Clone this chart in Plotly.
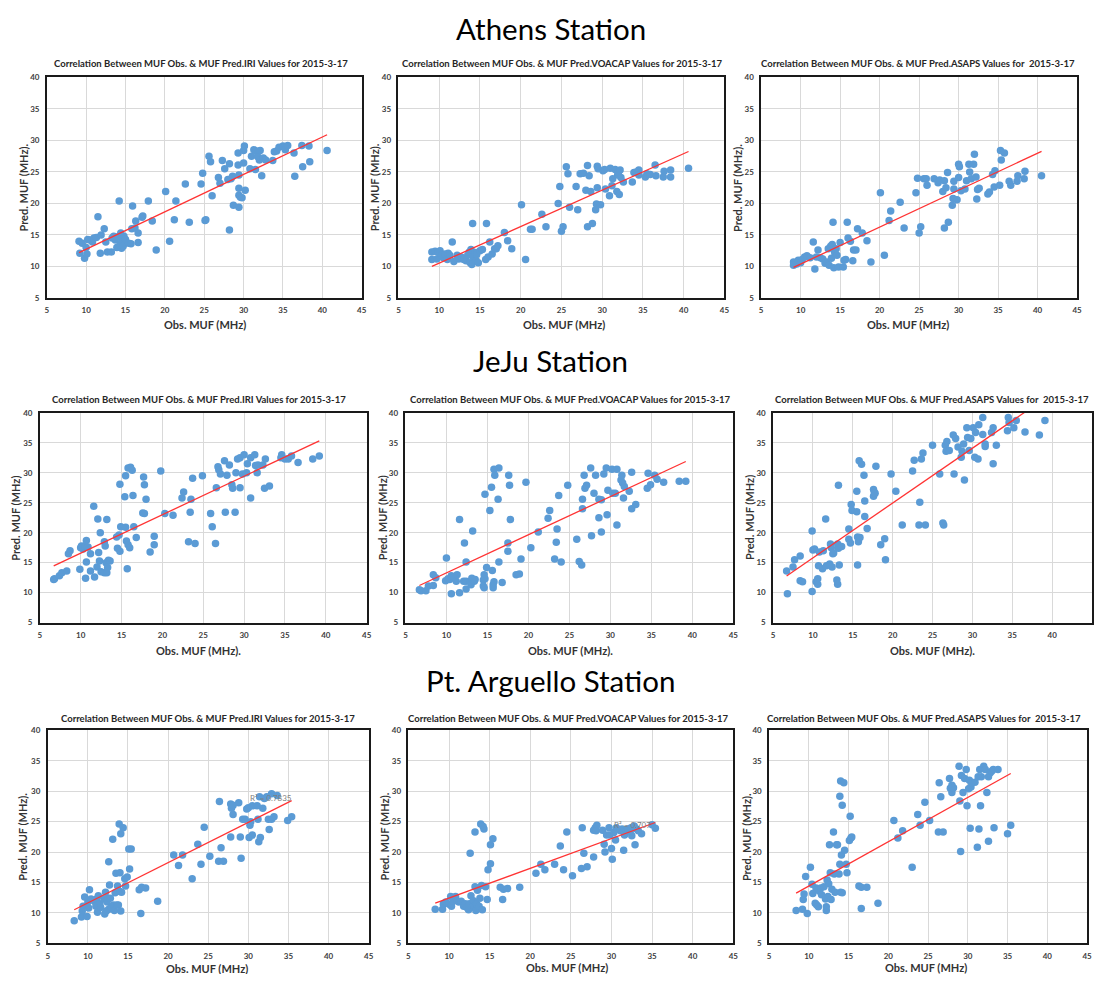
import numpy as np
import plotly.graph_objects as go

# ---------------- data ----------------
athens_iri_obs = [9.1,9.2,9.5,9.8,10,10.1,10.2,10.5,10.8,11,11.3,11.5,11.8,11.9,12.3,12.5,12.7,13.2,13.3,13.5,13.7,13.9,14,14.2,14.3,14.4,14.5,14.6,14.7,14.8,15,15.4,15.7,15.8,15.9,16.2,16.3,16.6,16.6,17.1,17.2,17.9,18.4,18.9,20.1,20.6,21.2,21.4,22.6,23.1,24.6,24.8,25.1,25.2,25.6,25.8,26,26.8,27,27.3,27.6,28,28.2,28.2,28.4,28.6,28.7,29.3,29.3,29.4,29.4,29.4,29.4,29.6,29.8,30,30,30.1,30.2,30.8,31,31.3,31.5,31.6,31.8,32,32.1,32.3,32.5,32.8,33.7,33.9,34.2,34.5,35,35.3,35.6,36.4,36.5,37.4,37.5,38.3,38.4,40.6]
athens_iri_pred = [14.0,12.1,13.7,11.3,13,12,14.3,14.2,13.9,14.5,14.6,17.9,12.1,15,16,13.9,12.3,12.3,14.5,14.8,14.2,13,14.7,20.4,13.5,15.3,12.9,14.1,13.2,14.8,14.3,13.7,13.6,16,19.6,16.1,17.2,13.8,15.3,17.8,18,20.4,17.2,12.6,21.9,14,17.4,20.4,23.1,17,23.1,24.8,17.3,17.4,27.5,26.6,21.2,24.1,23.2,26.8,25.5,23.8,26.3,15.8,23.9,24.3,19.7,28,26.1,24.5,22.4,21.3,19.4,21,20.9,26.4,28.4,29.1,22.1,25.5,27.5,28.5,25.4,28.3,27.4,26.9,28.4,24.4,27.2,26.9,26.8,28.2,28.3,28.9,29.1,28.5,29.2,28,24.3,29.2,25.8,29.1,26.6,28.4]

athens_voa_obs = [9.1,9.1,9.5,9.7,9.9,10.1,10.3,10.5,10.7,11,11.1,11.3,11.6,11.8,12.2,12.4,12.7,13.0,13.3,13.5,13.7,13.8,13.9,14,14.1,14.2,14.4,14.5,14.6,14.8,15.0,15.3,15.7,15.8,16,16.2,16.5,16.8,17,17.2,18,18.4,18.9,20.1,20.6,21.2,21.4,22.6,23.1,24.6,24.8,25,25.2,25.6,25.8,26,26.8,27,27.3,27.7,28,28.2,28.2,28.4,28.6,28.8,29.2,29.3,29.4,29.4,29.5,29.8,30.1,30.3,30.4,30.9,31,31.2,31.3,31.6,31.8,31.9,32,32.1,32.2,32.3,32.6,33.7,33.9,34.2,34.5,34.5,35.3,35.5,35.9,36.5,36.6,37.5,37.6,38.4,38.4,40.6]
athens_voa_pred = [12.3,11.1,12.4,11.2,12.2,12.5,11.8,11.4,12,11.1,12.1,11.8,13.9,10.8,11.8,11.2,11.5,11.1,10.9,11.8,12.3,10.6,12.7,10.3,16.8,11.5,12.2,11,11.9,10.6,12.5,12.7,11.1,16.8,11.5,13.9,12,12.8,12.8,13.3,15.4,14.1,12.8,19.8,11.1,15.9,15.9,18.3,16.3,20,22.7,15.6,16.3,25.8,24.7,19.4,22.7,19,24.7,24.8,22.1,26,16.3,24.4,21.9,16.8,19,19.9,25.9,22.5,25.5,19.8,25.2,25.4,22.3,21.2,25.6,22.8,23.9,25.4,21.9,24.5,25,21.4,25.3,24.1,23.4,23.4,24.9,25,25.3,24.5,24.2,24.7,24.6,26.1,24.4,24.2,25.1,25.3,24.2,25.6]

athens_asaps_obs = [9.1,9.1,9.5,9.7,10,10.2,10.5,10.8,11.2,11.6,11.8,12,12.2,12.5,12.8,13.1,13.3,13.5,13.6,13.8,13.9,14,14.1,14.2,14.3,14.5,14.6,14.8,15,15.4,15.5,15.7,15.9,16,16.3,16.6,16.7,17,17.2,17.8,18.4,18.9,20.1,20.6,21.2,21.4,22.6,23.1,24.6,24.8,25,25.2,25.6,25.9,26,26.9,27.4,27.6,28,28.2,28.2,28.4,28.6,28.7,29.2,29.3,29.4,29.4,29.8,30,30,30.1,30.3,30.8,31,31.3,31.4,31.6,31.9,32,32.2,32.3,32.4,32.6,33.7,33.9,34.3,34.6,34.5,35.2,35.3,35.4,35.8,36.4,36.6,37.4,37.5,38.3,38.4,40.5]
athens_asaps_pred = [10.7,10.2,10.4,11,10.6,11.1,11.5,11.7,11.4,13.9,9.6,11.5,12.6,11.4,11.2,10.5,10.7,12.8,10.2,13.2,11.3,13.5,17,9.8,12.2,12.8,11.8,9.9,13.8,9.9,11,11.1,17,14.5,14,10.9,12.6,12.6,16,15.3,14.1,10.7,21.7,11.8,17.3,18.8,20.2,16.1,21.7,24,15.3,16.3,23.9,23.9,22.9,23.9,23.3,23.7,21.9,23.6,16.1,22.5,24.9,17,19.7,20.8,22.3,23.5,20.6,26.2,24.1,25.8,22,22.3,23.6,26.2,25,23.9,26.2,27.8,24.2,20.7,22.2,22.4,21.5,21.8,24.6,25.2,22.6,22.9,28.4,26.9,28,23.5,22.9,23.5,24.4,23.9,25.1,24.4]

jeju_iri_obs = [6.7,6.8,7.4,7.7,8.3,8.5,8.7,9.9,10,10.1,10.3,10.5,10.6,10.7,10.7,10.9,11.2,11.2,11.6,11.7,12,12.1,12.2,12.3,12.4,12.5,12.9,12.9,13,13.1,13.2,13.2,13.3,13.4,13.6,14.4,14.5,14.7,14.8,14.8,14.9,15.4,15.5,15.5,15.6,15.7,15.8,15.8,16,16.1,16.3,16.4,16.5,16.8,17.6,17.7,17.8,17.8,18,18.5,19,19,19.8,20.3,21.3,22.4,22.6,23.2,23.4,23.5,23.7,24,24.9,25.9,26.1,26.5,26.6,26.8,26.9,27.1,27.6,27.7,27.9,28.2,28.5,28.6,28.9,29,29.2,29.5,29.5,29.8,30,30.3,30.4,30.8,30.8,31.3,31.4,31.6,31.7,32.3,32.6,32.5,33.1,34.5,34.6,35,35.4,35.8,36.6,38.4,39.2]
jeju_iri_pred = [12.2,12.3,12.8,13.3,13.6,16.5,17,13.9,17.5,17.8,17.3,17.8,12.4,15.1,18.7,17.6,13.6,16.5,24.4,12.6,14.3,22.3,16.7,15.3,20,13.5,13.3,18.5,17.8,15,22.2,13.3,14.2,15.4,15.3,19.3,17.4,19.6,16.9,28.1,21,26,29.5,20.9,18.6,14,30.8,18,17.5,30.9,30.4,26.2,21,19.2,23.3,29.3,28,23.2,25.6,16.8,19.4,18,30.3,23.2,22.9,25.8,26.8,18.5,23.4,25.6,29.1,18.2,29.5,23.2,21,18.2,27.5,31,30.5,29.8,32,23.4,29.6,31.3,28,27.4,23.4,30,32.3,27.5,32.5,29.8,33,30,31.5,25.8,32.5,33,31.2,30,31.3,31.3,32.3,27.4,27.8,32.5,33,32.3,32.3,32.8,31.7,32.3,32.8]

jeju_voa_obs = [6.7,6.9,7.5,7.8,8.4,8.4,8.7,9.9,10,10.2,10.4,10.6,10.6,10.9,11.2,11.3,11.6,11.6,12.1,12.2,12.4,12.4,12.4,12.9,13,13.1,13.2,13.4,13.5,14.5,14.5,14.6,14.6,14.7,14.7,14.9,15.3,15.5,15.6,15.7,15.7,15.8,15.8,15.9,16.3,16.4,16.4,16.8,17.5,17.5,17.6,17.7,17.8,18.5,18.9,19.1,19.7,20.3,21.2,22.4,22.6,23.2,23.4,23.5,23.7,24,24.8,25.9,26.2,26.5,26.6,26.6,26.8,26.9,27.1,27.6,27.7,28,28.2,28.6,28.6,28.9,28.9,29.2,29.5,29.6,29.7,30.2,30.3,30.6,30.8,30.8,31.3,31.4,31.5,31.6,31.7,32.3,32.6,32.6,33.1,34.6,34.5,34.9,35.4,35.7,36.5,38.4,39.2]
jeju_voa_pred = [10.5,10.3,10.3,11.1,13,11.2,12.5,12,15.8,12.3,12.2,12.8,9.8,12.6,11.9,13,10,22.2,11.9,18.3,15.1,10.6,11.9,11.9,11.3,12.4,20.3,11.9,12.2,12.1,11.1,13,10.8,12.3,26.4,14.2,23.7,27.6,13.7,11.3,10.8,30.6,11.8,29.6,25.6,30.8,15.1,11.7,18.3,16.9,29.6,27.9,22.2,13,13.1,15.6,28.4,17.5,20.1,22.4,23.7,15.6,18.4,20.6,26.2,15.1,27.9,18.9,15.2,14.6,25.6,24,29.6,27.4,27.9,30.8,19.5,26.6,29.6,22.5,25.6,25.5,20.1,29.8,30.8,23,27.1,30.6,26.6,26.6,30.6,21.3,28.8,29.6,28.3,25.8,27.7,26.9,30.1,24,24.7,29.9,27.4,28,29.6,28.9,28.4,28.6,28.6]

jeju_asaps_obs = [6.7,6.8,7.5,7.7,8.4,8.4,8.7,9.9,9.9,10,10.2,10.4,10.6,10.6,10.7,10.8,11.2,11.3,11.6,11.7,12.1,12.2,12.3,12.4,12.5,12.6,13,13.1,13.1,13.2,13.2,13.3,13.6,14.5,14.5,14.7,14.8,14.9,15.5,15.5,15.6,15.6,15.7,15.8,15.9,16.1,16.4,16.5,16.5,16.8,17.6,17.6,17.7,17.8,17.9,18.5,19,19.1,19.8,20.4,21.2,22.5,22.7,23.3,23.4,23.6,23.8,24.1,25,25.9,26.3,26.4,26.6,26.7,26.8,27.1,27.6,27.7,27.9,28.2,28.6,28.7,28.9,29,29.3,29.4,29.6,29.8,30.1,30.3,30.4,30.7,30.8,31.3,31.3,31.6,31.6,32.4,32.6,32.6,33,34.4,34.5,34.6,35.2,35.5,36.6,38.4,39.1]
jeju_asaps_pred = [13.6,9.8,14.3,15.5,16.1,12,11.8,10.2,20.3,17.1,17.3,11.8,12.3,11.4,14.5,16.8,14,17,22.3,14.5,14.8,18.1,17.5,14.3,16.5,16.6,12.1,11.4,18.1,27.9,17.4,14.6,17.7,20.6,18.9,18.3,24.7,23.7,23.5,26.9,14.6,19.3,18.5,32,19.2,31.4,29.6,25.3,22.7,20.7,26.1,27.2,26.7,26.6,31.1,18,19,15.5,29.8,26.9,21.3,30.3,32.1,21.3,25.1,32.3,33.3,21.3,34.6,29.8,21.6,21.3,34.6,33.6,35.2,33.7,36.3,29.8,35.7,34.3,32.6,33.6,34.8,28.8,37.5,35.9,33.7,35.7,37.5,32.6,36.7,32.3,38,39.2,36.4,34.4,34.8,36.7,37.5,31.5,34.6,37,39.2,38.4,37.5,38.7,36.8,36.3,38.7]

pta_iri_obs = [8.3,9.2,9.3,9.4,9.6,9.9,10,10.1,10.2,10.4,10.8,11,11.1,11.2,11.3,11.5,11.6,12,12.1,12.2,12.3,12.4,12.5,12.6,12.6,12.7,12.8,12.9,13.1,13.2,13.3,13.4,13.5,13.6,13.7,13.8,13.9,14,14,14.1,14.1,14.2,14.4,14.6,14.7,14.9,15.1,15.2,15.4,16.4,16.6,16.7,17.2,18.7,20.7,21.3,21.8,23,23.7,24.1,24.5,25.2,26.3,26.4,26.6,26.9,27.8,27.8,27.9,28.1,28.1,28.8,29.1,29,29.3,29.6,29.8,30,30.1,30.2,30.3,30.5,30.5,31.1,31.2,31.3,31.4,31.5,31.8,32,32.3,32.5,32.6,32.9,32.9,33.2,33.6,34.9,35.4]
pta_iri_pred = [8.7,9.3,10.3,11.1,12.6,9.4,11.8,10.8,13.8,12.3,11.9,11.1,12.3,10.1,12.8,11.5,10.9,12.3,9.8,13.4,10.3,11.8,12.4,18.4,10.6,14.6,12.4,11,22.1,11.3,10.4,13.3,16.5,11.3,14.4,11.3,24.6,16.6,13.5,23,10.3,13.4,24,15.6,14.4,15.9,20.5,17.2,20.5,13.8,9.9,14.2,14.1,11.9,19.5,17.8,19.5,15.6,21.3,18,24.1,19.3,18.5,28.3,20.7,18.5,27.9,22.5,27.2,26.2,27.7,28.1,19,22.5,25.4,25.4,27.1,27.3,22.4,24.4,25,22.8,27.6,27.6,25.4,21.7,29.1,22.4,27.2,28.8,29.1,25.4,23.7,29.6,25.4,25.8,29.3,25.2,25.8]

pta_voa_obs = [8.3,9.2,9.3,9.6,10,10.2,10.3,10.5,10.8,11,11.2,11.5,11.8,12,12.2,12.4,12.5,12.6,12.7,12.8,13,13.1,13.2,13.2,13.3,13.4,13.5,13.7,13.8,13.9,14,14.1,14.2,14.3,14.5,14.7,14.8,15.1,15.1,15.4,16.3,16.6,16.7,17.2,18.7,20.7,21.3,21.8,23,23.7,24.1,24.5,25.2,26.3,26.4,26.6,27,27.8,27.8,28,28.2,28.1,28.9,29.2,29.1,29.4,29.7,29.8,30,30.1,30.3,30.5,30.6,31.1,31.3,31.5,31.6,31.8,32,32.3,32.4,32.5,32.8,32.9,33.1,33.3,33.7,35,35.4]
pta_voa_pred = [10.6,10.6,11.4,11.8,11.4,12.7,11.1,11.9,12.7,12,11.8,11.9,11.1,11.5,10.9,10.5,11.5,19.8,12.8,10.9,12,11.1,23.3,14.3,10.4,11.4,13.7,11.1,12.4,24.6,14.5,10.5,24.2,23.8,14.3,12.2,17.1,21.2,18.1,22.2,14.2,12.2,13.9,14,14.2,16.5,18,17.1,18,21,17.1,23.3,16.1,17.3,24,19.8,17.6,19.2,23.6,24,24.4,23.5,23.6,20,21.3,22.8,24,22.8,20.6,18.8,23.2,22,24,23.5,23.8,20.3,22.8,23.5,23.8,23.4,24,22.7,24.3,21.2,23.8,23.5,23,24.5,23.9]

pta_asaps_obs = [8.4,9.2,9.3,9.4,9.6,9.8,10.2,10.4,10.5,10.8,10.9,11,11.2,11.3,11.5,11.6,11.9,12.1,12.2,12.2,12.3,12.4,12.5,12.6,12.7,12.8,12.9,13.1,13.2,13.3,13.5,13.6,13.8,13.9,13.9,14,14,14.1,14.2,14.2,14.4,14.5,14.7,14.8,15.1,15.2,15.3,15.4,16.3,16.6,16.6,17.3,18.7,20.7,21.2,21.8,23,23.7,24,24.6,25.2,26.3,26.4,26.6,26.9,27.7,27.8,28,28,28.1,28.2,28.9,29,29.1,29.2,29.4,29.6,29.8,29.9,30.1,30.2,30.3,30.4,30.5,30.9,31.2,31.3,31.4,31.5,31.6,31.7,32,32.2,32.4,32.6,32.6,32.8,33,33.2,33.3,33.8,35,35.4]
pta_asaps_pred = [10.4,10.6,12.2,13.1,16,9.9,17.5,14.7,13.2,11.6,14.1,11.3,11,13.6,14.1,13,14.3,12.3,10.4,11,15.4,12.7,14.8,21.2,16.6,12.2,13.9,23.3,16.4,13.4,21.2,21.2,16.4,18,29.2,13.4,31.7,19.5,27.7,13.3,31.4,20.3,18,16.6,21.9,25.9,22.3,22.5,14.4,10.7,14.2,14.2,11.6,25.2,22.3,23.5,17.5,26.2,24.4,28.2,25.2,23.3,31.4,29.1,23.3,32.1,30.5,31,29.8,30.5,30.6,34.1,28.4,20.1,32.6,29.8,32.1,33.6,27.6,30.4,31.8,23.9,30.7,31.4,31.5,20.8,32.4,23.8,33.6,27.6,32.4,34.1,33.6,29.8,21.8,32.4,33,33.3,33.6,24,33.6,23,24.4]

station_titles = ["Athens Station", "JeJu Station", "Pt. Arguello Station"]
model_names = ["IRI", "VOACAP", "ASAPS"]
x_tick_values = [5, 10, 15, 20, 25, 30, 35, 40, 45]
y_tick_values = [5, 10, 15, 20, 25, 30, 35, 40]
r2_labels = ["", "", "", "", "", "", "R\u00b2 = 0.7835", "R\u00b2 = 0.707", ""]

panels = [
    (athens_iri_obs, athens_iri_pred), (athens_voa_obs, athens_voa_pred), (athens_asaps_obs, athens_asaps_pred),
    (jeju_iri_obs, jeju_iri_pred), (jeju_voa_obs, jeju_voa_pred), (jeju_asaps_obs, jeju_asaps_pred),
    (pta_iri_obs, pta_iri_pred), (pta_voa_obs, pta_voa_pred), (pta_asaps_obs, pta_asaps_pred),
]

# ---------------- layout geometry (screen pixels) ----------------
SW, SH = 1105, 982
OFF = 8                      # default page margin around the plot div
W, H = SW - 2 * OFF, SH - 2 * OFF


def px(x):
    return min(1.0, max(0.0, (x - OFF) / W))


def py(y):
    return min(1.0, max(0.0, 1 - (y - OFF) / H))


boxes = [
    (45, 362, 73, 296), (399, 727, 73, 296), (764, 1082, 73, 296),
    (38, 367, 412, 624), (406, 736, 412, 624), (776, 1097, 412, 624),
    (46, 369, 733, 948), (409, 736, 733, 948), (772, 1092, 733, 948),
]
title_pos = [(200, 59), (564, 59), (922, 59), (198, 399), (572, 399), (936, 399), (207, 721), (570, 721), (928, 721)]
xtitle_pos = [(204, 323), (566, 323), (912, 323), (198, 652), (572, 652), (936, 652), (206, 973), (569, 972), (930, 972)]
ytitle_x = [22, 375, 740, 14, 383, 753, 21, 385, 750]
ytitles = ["Pred. MUF (MHz).", "Pred. MUF (MHz).", "Pred. MUF (MHz).",
           "Pred. MUF (MHz)", "Pred. MUF (MHz)", "Pred. MUF (MHz)",
           "Pred. MUF (MHz).", "Pred. MUF (MHz).", "Pred. MUF (MHz)."]
xtitles = ["Obs. MUF (MHz)"] * 3 + ["Obs. MUF (MHz)."] * 3 + ["Obs. MUF (MHz)"] * 3
r2_pos = [None] * 6 + [(29.9, 28.9), (30.1, 24.5), None]

FONT = "Lato, 'Open Sans', sans-serif"
BLUE = "#5B9BD5"

fig = go.Figure()
layout = dict(
    width=W, height=H, margin=dict(l=0, r=0, t=0, b=0, pad=0),
    paper_bgcolor="white", plot_bgcolor="white", showlegend=False,
    font=dict(family=FONT, color="#404040"),
)
annotations = []

for i, ((xs, ys), (x0, x1, y0, y1)) in enumerate(zip(panels, boxes)):
    n = "" if i == 0 else str(i + 1)
    xa, ya = "x" + n, "y" + n
    if r2_pos[i] is not None:
        annotations.append(dict(text=r2_labels[i], x=r2_pos[i][0], y=r2_pos[i][1], xref=xa, yref=ya,
                                showarrow=False, xanchor="left", yanchor="middle",
                                font=dict(size=8, color="#7f7f7f")))
    fig.add_trace(go.Scatter(x=xs, y=ys, mode="markers", xaxis=xa, yaxis=ya,
                             marker=dict(size=7.5, color=BLUE, line=dict(width=0))))
    xs_a, ys_a = np.array(xs), np.array(ys)
    k, b = np.polyfit(xs_a, ys_a, 1)
    xl = np.array([xs_a.min(), xs_a.max()])
    fig.add_trace(go.Scatter(x=xl, y=k * xl + b, mode="lines", xaxis=xa, yaxis=ya,
                             line=dict(color="#FF3333", width=1.3)))
    common = dict(showgrid=True, gridcolor="#D9D9D9", gridwidth=1, zeroline=False,
                  showline=True, linecolor="#1a1a1a", linewidth=1.5, mirror=True,
                  ticks="outside", ticklen=4, tickcolor="rgba(0,0,0,0)",
                  tickfont=dict(size=8, color="#404040", family=FONT, weight="bold"))
    layout["xaxis" + n] = dict(common, domain=[px(x0), px(x1)], range=[5, 45],
                               tickvals=x_tick_values, anchor=ya)
    layout["yaxis" + n] = dict(common, domain=[py(y1), py(y0)], range=[5, 40],
                               tickvals=y_tick_values, anchor=xa)
    model = model_names[i % 3]
    sp = "  " if model == "ASAPS" else " "
    tx, ty = title_pos[i]
    annotations.append(dict(text="<b>Correlation Between MUF Obs. &amp; MUF Pred.%s Values for%s2015-3-17</b>" % (model, sp),
                            x=px(tx), y=py(ty), xref="paper", yref="paper", showarrow=False,
                            font=dict(size=9.5, color="#262626"), xanchor="center", yanchor="middle"))
    ax_, ay_ = xtitle_pos[i]
    annotations.append(dict(text="<b>%s</b>" % xtitles[i], x=px(ax_), y=py(ay_), xref="paper", yref="paper",
                            showarrow=False, font=dict(size=11, color="#333333"), xanchor="center", yanchor="middle"))
    annotations.append(dict(text="<b>%s</b>" % ytitles[i], x=px(ytitle_x[i]), y=py((y0 + y1) / 2),
                            xref="paper", yref="paper", showarrow=False, textangle=-90,
                            font=dict(size=11, color="#333333"), xanchor="center", yanchor="middle"))

for s, yy in zip(station_titles, [24, 359, 682]):
    annotations.append(dict(text=s, x=px(552), y=py(yy), xref="paper", yref="paper", showarrow=False,
                            font=dict(size=29.5, color="black", family=FONT), xanchor="center", yanchor="middle"))

layout["annotations"] = annotations
fig.update_layout(**layout)
fig.write_html("out.html")
